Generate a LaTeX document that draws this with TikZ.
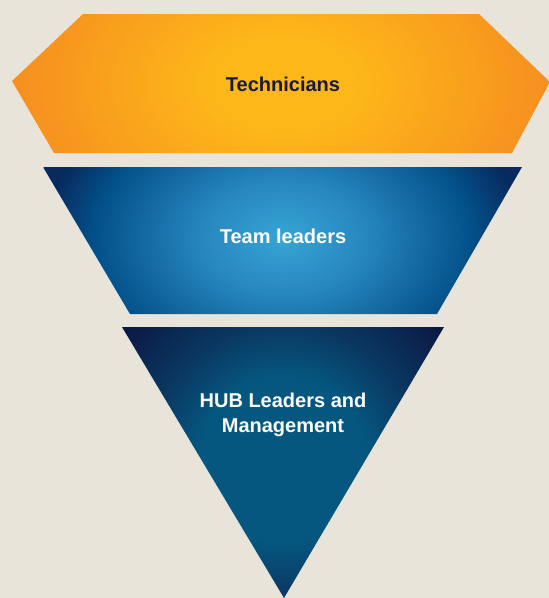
\documentclass[tikz,border=0pt]{standalone}
\usepackage{fontspec}
\setmainfont{Liberation Sans}
\usepackage{tikz}
\usepackage{xcolor}

\definecolor{bgbeige}{HTML}{E8E4D9}
\definecolor{navytext}{HTML}{1A1A3E}
% orange tier
\definecolor{techin}{HTML}{FDB719}
\definecolor{techmid}{HTML}{F8991E}
\definecolor{techout}{HTML}{F58A22}
% light blue tier
\definecolor{teamin}{HTML}{36A5D5}
\definecolor{teammid}{HTML}{2786BE}
\definecolor{teamdark}{HTML}{03518A}
\definecolor{teamout}{HTML}{082A5E}
% dark blue tier
\definecolor{hubin}{HTML}{05577F}
\definecolor{hubmid}{HTML}{0A3660}
\definecolor{hubout}{HTML}{0B1A45}

\pgfdeclareradialshading{techshade}{\pgfpoint{0bp}{0bp}}{color(0bp)=(techin); color(6bp)=(techin); color(18bp)=(techmid); color(25bp)=(techout); color(50bp)=(techout)}
\pgfdeclareradialshading{teamshade}{\pgfpoint{0bp}{0bp}}{color(0bp)=(teamin); color(8bp)=(teammid); color(18bp)=(teamdark); color(23bp)=(teamout); color(50bp)=(teamout)}
\pgfdeclareradialshading{hubshade}{\pgfpoint{0bp}{0bp}}{color(0bp)=(hubin); color(9bp)=(hubin); color(15bp)=(hubmid); color(22bp)=(hubout); color(50bp)=(hubout)}

\begin{document}
\begin{tikzpicture}[x=1pt,y=-1pt,
    tier/.style={font=\bfseries\fontsize{20}{25}\selectfont, align=center, text=white}]
  \fill[bgbeige] (0,0) rectangle (549,598);
  \useasboundingbox (0,0) rectangle (549,598);

  % top: technicians
  \begin{scope}
    \clip (83,14) -- (479,14) -- (550,82) -- (512,153) -- (54,153) -- (12,81) -- cycle;
    \shade[shading=techshade] (283,84) ellipse (300pt and 200pt);
  \end{scope}

  % middle: team leaders
  \begin{scope}
    \clip (43,167) -- (522,167) -- (437,314) -- (130,314) -- cycle;
    \shade[shading=teamshade] (283,238) ellipse (260pt and 180pt);
  \end{scope}

  % bottom: hub leaders
  \begin{scope}
    \clip (122,327) -- (444,327) -- (284,598) -- cycle;
    \shade[shading=hubshade] (283,460) circle (230pt);
  \end{scope}

  \node[tier, text=navytext] (tech) at (283,84)  {Technicians};
  \node[tier]                (team) at (283,236) {Team leaders};
  \node[tier]                (hub)  at (283,415) {HUB Leaders and\\Management};
\end{tikzpicture}
\end{document}
